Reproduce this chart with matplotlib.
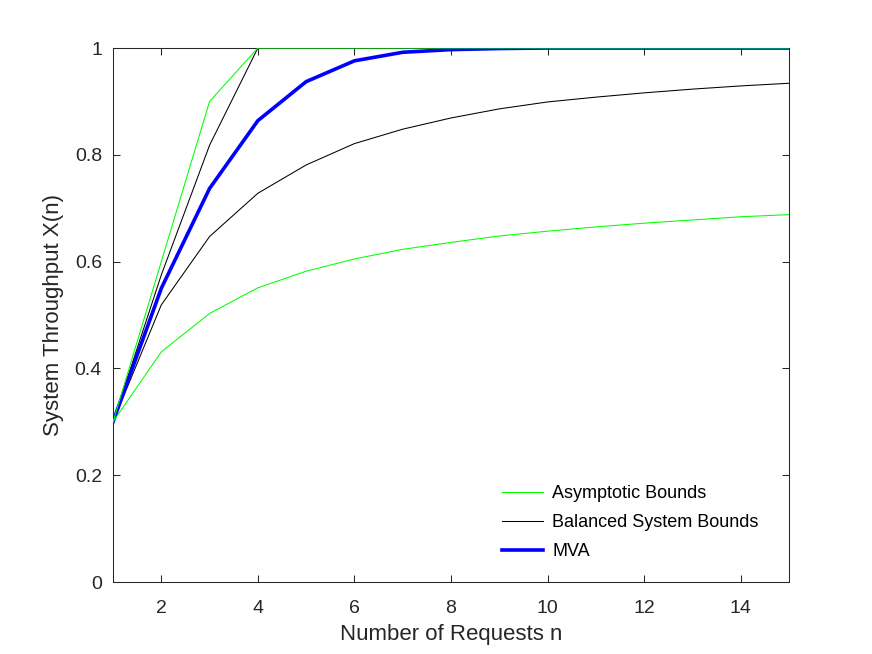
import matplotlib.pyplot as plt

# Values
n = list(range(1, 16))
asym_upper = [0.30, 0.60, 0.90, 1.0, 1.0, 1.0, 1.0, 1.0, 1.0, 1.0, 1.0, 1.0, 1.0, 1.0, 1.0]
asym_lower = [0.30, 0.431, 0.503, 0.551, 0.582, 0.605, 0.623, 0.636, 0.648, 0.657, 0.665, 0.672, 0.678, 0.684, 0.688]
bal_upper = [0.30, 0.575, 0.818, 1.0, 1.0, 1.0, 1.0, 1.0, 1.0, 1.0, 1.0, 1.0, 1.0, 1.0, 1.0]
bal_lower = [0.30, 0.519, 0.647, 0.728, 0.781, 0.821, 0.848, 0.869, 0.886, 0.899, 0.908, 0.916, 0.923, 0.929, 0.934]
mva = [0.30, 0.55, 0.737, 0.864, 0.937, 0.976, 0.992, 0.997, 0.999, 1.0, 1.0, 1.0, 1.0, 1.0, 1.0]

plt.rcParams['font.family'] = ['Liberation Sans', 'DejaVu Sans']
fg = '#262626'

fig = plt.figure(figsize=(8.72, 6.54), dpi=100)
ax = fig.add_axes([0.1296, 0.110, 0.7752, 0.8166])

ax.plot(n, bal_upper, color='black', lw=0.75, zorder=2)
ax.plot(n, bal_lower, color='black', lw=0.75, zorder=2, label='Balanced System Bounds')
ax.plot(n, mva, color='#0000ff', lw=2.6, zorder=3, label='MVA')
ax.plot(n, asym_upper, color='#00ff00', lw=0.75, zorder=4, label='Asymptotic Bounds')
ax.plot(n, asym_lower, color='#00ff00', lw=0.75, zorder=4)

ax.set_xlim(1, 15)
ax.set_ylim(0, 1)
ax.set_xticks([2, 4, 6, 8, 10, 12, 14])
ax.set_yticks([0, 0.2, 0.4, 0.6, 0.8, 1])
ax.set_yticklabels(['0', '0.2', '0.4', '0.6', '0.8', '1'])
ax.tick_params(direction='in', length=5, width=0.75, colors=fg, labelsize=14,
               top=True, right=True)
ax.tick_params(axis='x', pad=13)
ax.tick_params(axis='y', pad=8)
for s in ax.spines.values():
    s.set_color(fg)
    s.set_linewidth(0.75)

ax.set_xlabel('Number of Requests n', fontsize=16, color=fg, labelpad=5)
ax.set_ylabel('System Throughput X(n)', fontsize=16, color=fg, labelpad=8)

h, l = ax.get_legend_handles_labels()
order = [2, 0, 1]
ax.legend([h[i] for i in order], [l[i] for i in order], loc='lower right',
          frameon=False, fontsize=13, bbox_to_anchor=(0.966, 0.027),
          borderaxespad=0, handlelength=2.3, handletextpad=0.5,
          labelspacing=0.67)

fig.savefig('out.png', dpi=100)
